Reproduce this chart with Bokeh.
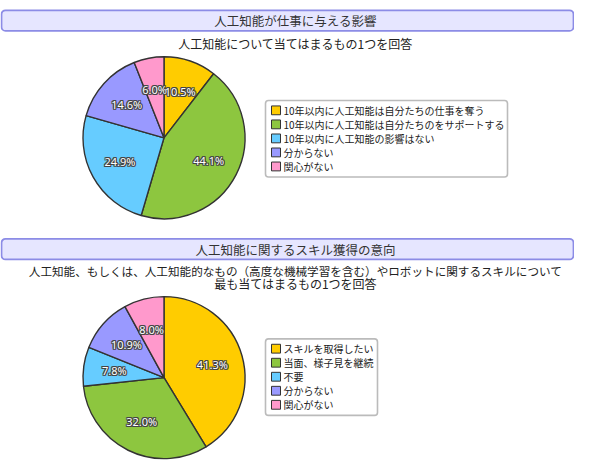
import numpy as np
from bokeh.plotting import figure
from bokeh.models import Range1d, ColumnDataSource
from bokeh.core.properties import value
from bokeh.embed import file_html
from bokeh.resources import INLINE

# ---------------- data ----------------
title1 = "人工知能が仕事に与える影響"
subtitle1 = ["人工知能について当てはまるもの1つを回答"]
labels1 = ["10年以内に人工知能は自分たちの仕事を奪う",
           "10年以内に人工知能は自分たちのをサポートする",
           "10年以内に人工知能の影響はない",
           "分からない",
           "関心がない"]
values1 = [10.5, 44.1, 24.9, 14.6, 6.0]

title2 = "人工知能に関するスキル獲得の意向"
subtitle2 = ["人工知能、もしくは、人工知能的なもの（高度な機械学習を含む）やロボットに関するスキルについて",
             "最も当てはまるもの1つを回答"]
labels2 = ["スキルを取得したい", "当面、様子見を継続", "不要", "分からない", "関心がない"]
values2 = [41.3, 32.0, 7.8, 10.9, 8.0]

colors = ["#FFCC00", "#8DC63F", "#66CCFF", "#9999FF", "#FF99CC"]

JP = value("Noto Sans CJK JP")
W, H = 574, 460
TOT_H = 476
SPAN = 469  # reference pixels shown vertically

p = figure(width=W, height=H, x_range=Range1d(0, W), y_range=Range1d(TOT_H - SPAN, TOT_H),
           output_backend="svg", toolbar_location=None, min_border=0)
p.axis.visible = False
p.grid.visible = False
p.outline_line_color = None
p.background_fill_color = "white"
p.border_fill_color = "white"


def Y(ref_y):
    return TOT_H - ref_y


def panel(title, subtitle, labels, values, box_top, sub_top, cy, leg_box, sub_sizes):
    # title bar
    p.quad(left=[1], right=[573], top=[Y(box_top)], bottom=[Y(box_top + 21)],
           fill_color="#E6E6FF", line_color="#8C8CE6", line_width=1.8, border_radius=4)
    p.text(x=[295], y=[Y(box_top + 10.5)], text=[title], text_font=JP, text_font_size="12.5px",
           text_align="center", text_baseline="middle", text_color="#333333")
    for i, s in enumerate(subtitle):
        p.text(x=[295], y=[Y(sub_top + 13 * i)], text=[s], text_font=JP,
               text_font_size=sub_sizes[i],
               text_align="center", text_baseline="middle", text_color="#222222")

    # pie
    v = np.array(values, dtype=float)
    frac = v / v.sum()
    cum = np.concatenate([[0.0], np.cumsum(frac)])
    start = np.pi / 2 - 2 * np.pi * cum[:-1]
    end = np.pi / 2 - 2 * np.pi * cum[1:]
    cx, r = 163.5, 81
    src = ColumnDataSource(dict(start=start, end=end, color=colors))
    p.wedge(x=cx, y=Y(cy), radius=r, start_angle="start", end_angle="end", direction="clock",
            fill_color="color", line_color="#333333", line_width=1.4, source=src)

    mid = (start + end) / 2
    f = 0.62
    lx = cx + f * r * np.cos(mid)
    ly = Y(cy) + f * r * np.sin(mid)
    txt = [f"{x:.1f}%" for x in values]
    lsrc = ColumnDataSource(dict(x=lx, y=ly, t=txt))
    for dx, dy in [(-1, 0), (1, 0), (0, -1), (0, 1), (-1, -1), (1, 1), (-1, 1), (1, -1)]:
        p.text(x="x", y="y", text="t", source=lsrc, x_offset=dx, y_offset=dy,
               text_font=value("Noto Sans"), text_font_size="11px", text_align="center",
               text_baseline="middle", text_color="#444444")
    p.text(x="x", y="y", text="t", source=lsrc, text_font=value("Noto Sans"),
           text_font_size="11px", text_align="center", text_baseline="middle",
           text_color="white")

    # legend
    lx0, lx1, ly0, ly1 = leg_box
    p.quad(left=[lx0], right=[lx1], top=[Y(ly0)], bottom=[Y(ly1)], fill_color="white",
           line_color="#BBBBBB", line_width=1.6, border_radius=3)
    n = len(labels)
    rows = [Y(ly0 + 10 + 14.3 * i) for i in range(n)]
    p.rect(x=[lx0 + 10.5] * n, y=rows, width=9, height=9, fill_color=colors,
           line_color="#333333", line_width=1)
    p.text(x=[lx0 + 18] * n, y=rows, text=labels, text_font=JP, text_font_size="10px",
           text_baseline="middle", text_color="#222222")


panel(title1, subtitle1, labels1, values1, box_top=10, sub_top=44, cy=140,
      leg_box=(265, 507, 102, 180), sub_sizes=["12px"])
panel(title2, subtitle2, labels2, values2, box_top=243, sub_top=276, cy=384.5,
      leg_box=(265, 377, 345, 423), sub_sizes=["11.6px", "12px"])

open("out.html", "w").write(file_html(p, INLINE))
